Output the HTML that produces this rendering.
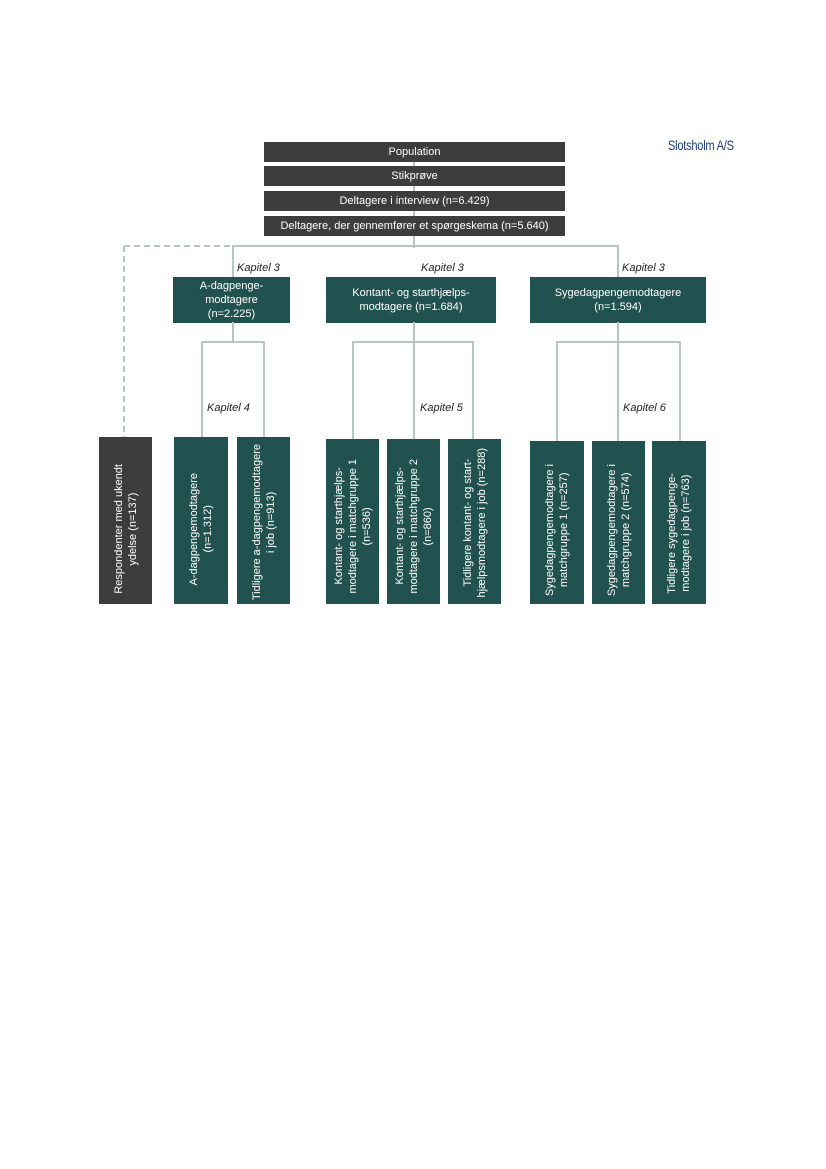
<!DOCTYPE html>
<html><head><meta charset="utf-8"><style>
body{margin:0;width:826px;height:1169px;background:#fff;position:relative;font-family:"Liberation Sans",Arial,sans-serif;overflow:hidden}
.b{position:absolute;color:#fff;font-size:11px;display:flex;align-items:center;justify-content:center;text-align:center;line-height:14px}
.g{background:#3e3d3d}.t{background:#22524f}
.l{position:absolute;background:#b7c6c3}
.k{position:absolute;font-size:11px;font-style:italic;color:#222}
.v{position:absolute;color:#fff;font-size:11px;line-height:14px;display:flex;align-items:flex-end;justify-content:center;text-align:center;box-sizing:border-box;padding-bottom:8px}
.v span{writing-mode:vertical-rl;transform:rotate(180deg);display:block;white-space:nowrap}
</style></head><body>
<div style="position:absolute;left:668px;top:138px;font-size:13.5px;color:#1f3f75;letter-spacing:-0.3px;transform:scaleX(0.82);transform-origin:left">Slotsholm A/S</div>
<div class="l" style="left:413px;top:160px;width:2px;height:88px"></div>
<div class="b g" style="left:264px;top:142px;width:301px;height:20px">Population</div>
<div class="b g" style="left:264px;top:166px;width:301px;height:20px">Stikprøve</div>
<div class="b g" style="left:264px;top:191px;width:301px;height:20px">Deltagere i interview (n=6.429)</div>
<div class="b g" style="left:264px;top:216px;width:301px;height:20px">Deltagere, der gennemfører et spørgeskema (n=5.640)</div>
<svg style="position:absolute;left:0;top:0" width="826" height="700"><path d="M124 246H232M124 246V437" stroke="#b7c6c3" stroke-width="2" stroke-dasharray="6,4" fill="none"/></svg>
<div class="l" style="left:232px;top:245px;width:387px;height:2px"></div>
<div class="l" style="left:232px;top:245px;width:2px;height:33px"></div>
<div class="l" style="left:617px;top:245px;width:2px;height:33px"></div>
<div class="k" style="left:237px;top:262px">Kapitel 3</div>
<div class="k" style="left:421px;top:262px">Kapitel 3</div>
<div class="k" style="left:622px;top:262px">Kapitel 3</div>
<div class="b t" style="left:173px;top:277px;width:117px;height:46px">A-dagpenge-<br>modtagere<br>(n=2.225)</div>
<div class="b t" style="left:326px;top:277px;width:170px;height:46px">Kontant- og starthjælps-<br>modtagere (n=1.684)</div>
<div class="b t" style="left:530px;top:277px;width:176px;height:46px">Sygedagpengemodtagere<br>(n=1.594)</div>
<div class="l" style="left:232px;top:322px;width:2px;height:20px"></div>
<div class="l" style="left:413px;top:322px;width:2px;height:118px"></div>
<div class="l" style="left:617px;top:322px;width:2px;height:120px"></div>
<div class="l" style="left:201px;top:341px;width:64px;height:2px"></div>
<div class="l" style="left:352px;top:341px;width:122px;height:2px"></div>
<div class="l" style="left:556px;top:341px;width:125px;height:2px"></div>
<div class="l" style="left:201px;top:341px;width:2px;height:97px"></div>
<div class="l" style="left:263px;top:341px;width:2px;height:97px"></div>
<div class="l" style="left:352px;top:341px;width:2px;height:99px"></div>
<div class="l" style="left:472px;top:341px;width:2px;height:99px"></div>
<div class="l" style="left:556px;top:341px;width:2px;height:101px"></div>
<div class="l" style="left:679px;top:341px;width:2px;height:101px"></div>
<div class="k" style="left:207px;top:402px">Kapitel 4</div>
<div class="k" style="left:420px;top:402px">Kapitel 5</div>
<div class="k" style="left:623px;top:402px">Kapitel 6</div>
<div class="v g" style="left:99px;top:437px;width:53px;height:167px;padding-bottom:10px"><span>Respondenter med ukendt<br>ydelse (n=137)</span></div>
<div class="v t" style="left:174px;top:437px;width:54px;height:167px;padding-bottom:18px"><span>A-dagpengemodtagere<br>(n=1.312)</span></div>
<div class="v t" style="left:237px;top:437px;width:53px;height:167px;padding-bottom:4px"><span>Tidligere a-dagpengemodtagere<br>i job (n=913)</span></div>
<div class="v t" style="left:326px;top:439px;width:53px;height:165px;padding-bottom:10px"><span>Kontant- og starthjælps-<br>modtagere i matchgruppe 1<br>(n=536)</span></div>
<div class="v t" style="left:387px;top:439px;width:53px;height:165px;padding-bottom:10px"><span>Kontant- og starthjælps-<br>modtagere i matchgruppe 2<br>(n=860)</span></div>
<div class="v t" style="left:448px;top:439px;width:53px;height:165px;padding-bottom:6px"><span>Tidligere kontant- og start-<br>hjælpsmodtagere i job (n=288)</span></div>
<div class="v t" style="left:530px;top:441px;width:54px;height:163px;padding-bottom:8px"><span>Sygedagpengemodtagere i<br>matchgruppe 1 (n=257)</span></div>
<div class="v t" style="left:592px;top:441px;width:53px;height:163px;padding-bottom:8px"><span>Sygedagpengemodtagere i<br>matchgruppe 2 (n=574)</span></div>
<div class="v t" style="left:652px;top:441px;width:54px;height:163px;padding-bottom:10px"><span>Tidligere sygedagpenge-<br>modtagere i job (n=763)</span></div>
</body></html>
